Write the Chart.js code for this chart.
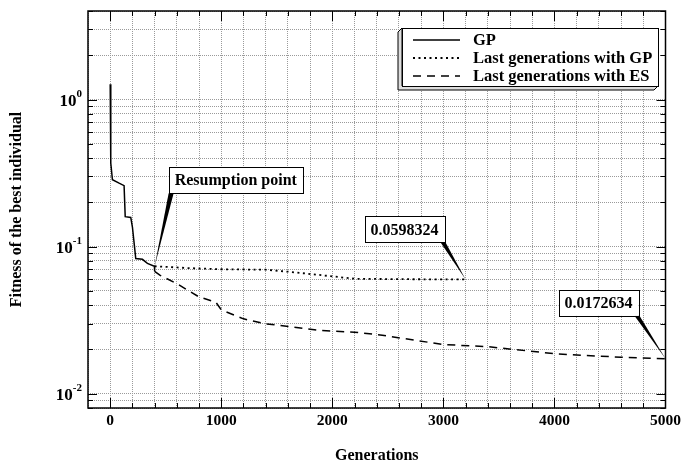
<!DOCTYPE html>
<html>
<head>
<meta charset="utf-8">
<script src="https://cdn.jsdelivr.net/npm/chart.js@4.4.0/dist/chart.umd.min.js"></script>
<style>
  body { margin: 0; background: #fff; }
  #wrap { width: 685px; height: 464px; }
</style>
</head>
<body>
<div id="wrap"><canvas id="myChart" width="685" height="464"></canvas></div>
<script>
// Values (generation, fitness of best individual)
var gpGens = [0, 5, 20, 80, 125, 135, 185, 200, 230, 290, 335, 398, 400];
var gpVals = [1.27, 0.37, 0.285, 0.27, 0.26, 0.16, 0.158, 0.136, 0.083, 0.082, 0.077, 0.0736, 0.068];

var lastGpGens = [400, 700, 1000, 1400, 1600, 1900, 2200, 2600, 3200];
var lastGpVals = [0.0736, 0.0715, 0.0702, 0.0697, 0.0676, 0.064, 0.0605, 0.0601, 0.0598324];

var esGens = [400, 450, 600, 800, 950, 1000, 1200, 1400, 1900, 2200, 2450, 3000, 3400, 4000, 4600, 5000];
var esVals = [0.068, 0.0638, 0.056, 0.0455, 0.042, 0.0372, 0.0323, 0.0299, 0.0269, 0.0262, 0.025, 0.0216, 0.0209, 0.0187, 0.0177, 0.0172634];

var seriesLabels = ['GP', 'Last generations with GP', 'Last generations with ES'];

// y grid ticks (log axis) and the ones that get a 10^n label
var yTicks = [0.008, 0.009, 0.01, 0.02, 0.03, 0.04, 0.05, 0.06, 0.07, 0.08, 0.09,
              0.1, 0.2, 0.3, 0.4, 0.5, 0.6, 0.7, 0.8, 0.9, 1, 2, 3, 4];
var yLabelValues = [0.01, 0.1, 1];
var yLabelExps = ['-2', '-1', '0'];

// callouts: which series, which point
var callouts = [
  { text: 'Resumption point', series: 1, index: 0 },
  { text: '0.0598324', series: 1, index: lastGpVals.length - 1 },
  { text: '0.0172634', series: 2, index: esVals.length - 1 }
];

function pts(xs, ys) {
  return xs.map(function (x, i) { return { x: x, y: ys[i] }; });
}

var SERIF = '"Liberation Serif", "Times New Roman", serif';

var decorations = {
  id: 'decorations',
  afterDraw: function (chart) {
    var ctx = chart.ctx;
    var a = chart.chartArea;
    var xs = chart.scales.x, ys = chart.scales.y;
    ctx.save();

    // frame
    ctx.strokeStyle = '#000';
    ctx.lineWidth = 1.5;
    ctx.strokeRect(a.left, a.top, a.right - a.left, a.bottom - a.top);

    // inward ticks on all four sides
    ctx.lineWidth = 1;
    xs.ticks.forEach(function (t) {
      if (t.value <= xs.min || t.value >= xs.max) return;
      var px = Math.round(xs.getPixelForValue(t.value)) + 0.5;
      var len = t.value % 1000 === 0 ? 10 : 5;
      ctx.beginPath();
      ctx.moveTo(px, a.bottom); ctx.lineTo(px, a.bottom - len);
      ctx.moveTo(px, a.top); ctx.lineTo(px, a.top + len);
      ctx.stroke();
    });
    yTicks.forEach(function (v) {
      var py = Math.round(ys.getPixelForValue(v)) + 0.5;
      var len = yLabelValues.indexOf(v) >= 0 ? 9 : 5;
      ctx.beginPath();
      ctx.moveTo(a.left, py); ctx.lineTo(a.left + len, py);
      ctx.moveTo(a.right, py); ctx.lineTo(a.right - len, py);
      ctx.stroke();
    });

    // y labels 10^n
    ctx.fillStyle = '#000';
    ctx.textBaseline = 'alphabetic';
    yLabelValues.forEach(function (v, i) {
      var py = ys.getPixelForValue(v);
      ctx.font = 'bold 11px ' + SERIF;
      ctx.textAlign = 'right';
      var ew = ctx.measureText(yLabelExps[i]).width;
      ctx.fillText(yLabelExps[i], 82, py - 3);
      ctx.font = 'bold 17px ' + SERIF;
      ctx.fillText('10', 82 - ew, py + 6);
    });

    // legend box with raised edge
    var L = { left: 402, top: 28, right: 658, bottom: 86, d: 4 };
    ctx.fillStyle = '#ddd';
    ctx.strokeStyle = '#000';
    ctx.lineWidth = 1;
    ctx.beginPath();
    ctx.moveTo(L.left, L.top);
    ctx.lineTo(L.left - L.d, L.top + L.d);
    ctx.lineTo(L.left - L.d, L.bottom + L.d);
    ctx.lineTo(L.right - L.d, L.bottom + L.d);
    ctx.lineTo(L.right, L.bottom);
    ctx.lineTo(L.left, L.bottom);
    ctx.closePath();
    ctx.fill(); ctx.stroke();
    ctx.fillStyle = '#fff';
    ctx.fillRect(L.left, L.top, L.right - L.left, L.bottom - L.top);
    ctx.strokeRect(L.left + 0.5, L.top + 0.5, L.right - L.left, L.bottom - L.top);

    var rows = [40, 58, 76];
    chart.data.datasets.forEach(function (ds, i) {
      ctx.strokeStyle = ds.borderColor;
      ctx.lineWidth = ds.borderWidth;
      ctx.setLineDash(ds.borderDash || []);
      ctx.beginPath();
      ctx.moveTo(413, rows[i]); ctx.lineTo(460, rows[i]);
      ctx.stroke();
      ctx.setLineDash([]);
      ctx.fillStyle = '#000';
      ctx.font = 'bold 16.5px ' + SERIF;
      ctx.textAlign = 'left';
      ctx.textBaseline = 'middle';
      ctx.fillText(ds.label, 473, rows[i] + 1);
    });

    // callout boxes with pointer wedges
    var place = [
      function (tx, ty, w) { return { left: tx + 14, bottom: ty - 73, baseX: tx + 16 }; },
      function (tx, ty, w) { return { left: tx - 21 - w, bottom: ty - 37, baseX: tx - 23 }; },
      function (tx, ty, w) { return { left: tx - 27 - w, bottom: ty - 43, baseX: tx - 29 }; }
    ];
    callouts.forEach(function (c, i) {
      var p = chart.data.datasets[c.series].data[c.index];
      var tx = xs.getPixelForValue(p.x), ty = ys.getPixelForValue(p.y);
      ctx.font = 'bold 16px ' + SERIF;
      var w = ctx.measureText(c.text).width + 12;
      var h = 26;
      var b = place[i](tx, ty, w);
      ctx.fillStyle = '#000';
      ctx.beginPath();
      ctx.moveTo(b.baseX - 2, b.bottom);
      ctx.lineTo(b.baseX + 3, b.bottom);
      ctx.lineTo(tx, ty);
      ctx.closePath();
      ctx.fill();
      ctx.fillStyle = '#fff';
      ctx.fillRect(b.left, b.bottom - h, w, h);
      ctx.strokeStyle = '#000';
      ctx.lineWidth = 1;
      ctx.strokeRect(Math.round(b.left) + 0.5, Math.round(b.bottom - h) + 0.5, Math.round(w), h);
      ctx.fillStyle = '#000';
      ctx.textAlign = 'center';
      ctx.textBaseline = 'middle';
      ctx.fillText(c.text, b.left + w / 2, b.bottom - h / 2 + 1);
    });

    ctx.restore();
  }
};

var ctx = document.getElementById('myChart');
var myChart = new Chart(ctx, {
  type: 'line',
  data: {
    datasets: [
      { label: seriesLabels[0], data: pts(gpGens, gpVals), borderColor: '#000', borderWidth: 1.5 },
      { label: seriesLabels[1], data: pts(lastGpGens, lastGpVals), borderColor: '#000', borderWidth: 1.8, borderDash: [2, 3.5] },
      { label: seriesLabels[2], data: pts(esGens, esVals), borderColor: '#000', borderWidth: 1.5, borderDash: [8, 6] }
    ]
  },
  options: {
    responsive: false,
    animation: false,
    events: [],
    layout: { padding: { left: 0, right: 13, top: 11, bottom: 0 } },
    elements: { point: { radius: 0 }, line: { tension: 0 } },
    plugins: { legend: { display: false }, tooltip: { enabled: false } },
    scales: {
      x: {
        type: 'linear',
        min: -200,
        max: 5000,
        afterFit: function (s) { s.height = 56; },
        ticks: {
          stepSize: 200,
          autoSkip: false,
          maxRotation: 0,
          padding: 4,
          color: '#000',
          font: { family: SERIF, size: 15.5, weight: 'bold' },
          callback: function (v) { return v % 1000 === 0 ? String(v) : ''; }
        },
        grid: { color: '#9a9a9a', lineWidth: 1, drawTicks: false },
        border: { display: false, dash: [1, 1] },
        title: {
          display: true,
          text: 'Generations',
          color: '#000',
          font: { family: SERIF, size: 16, weight: 'bold', lineHeight: 1 },
          padding: { top: 0, bottom: 0 }
        }
      },
      y: {
        type: 'logarithmic',
        min: 0.008,
        max: 4,
        afterBuildTicks: function (s) {
          s.ticks = yTicks.map(function (v) { return { value: v }; });
        },
        afterFit: function (s) { s.width = 88; },
        ticks: { display: false },
        grid: { color: '#9a9a9a', lineWidth: 1, drawTicks: false },
        border: { display: false, dash: [1, 1] },
        title: {
          display: true,
          text: 'Fitness of the best individual',
          color: '#000',
          font: { family: SERIF, size: 16, weight: 'bold', lineHeight: 1.2 },
          padding: { top: 7, bottom: 0 }
        }
      }
    }
  },
  plugins: [decorations]
});
</script>
</body>
</html>
